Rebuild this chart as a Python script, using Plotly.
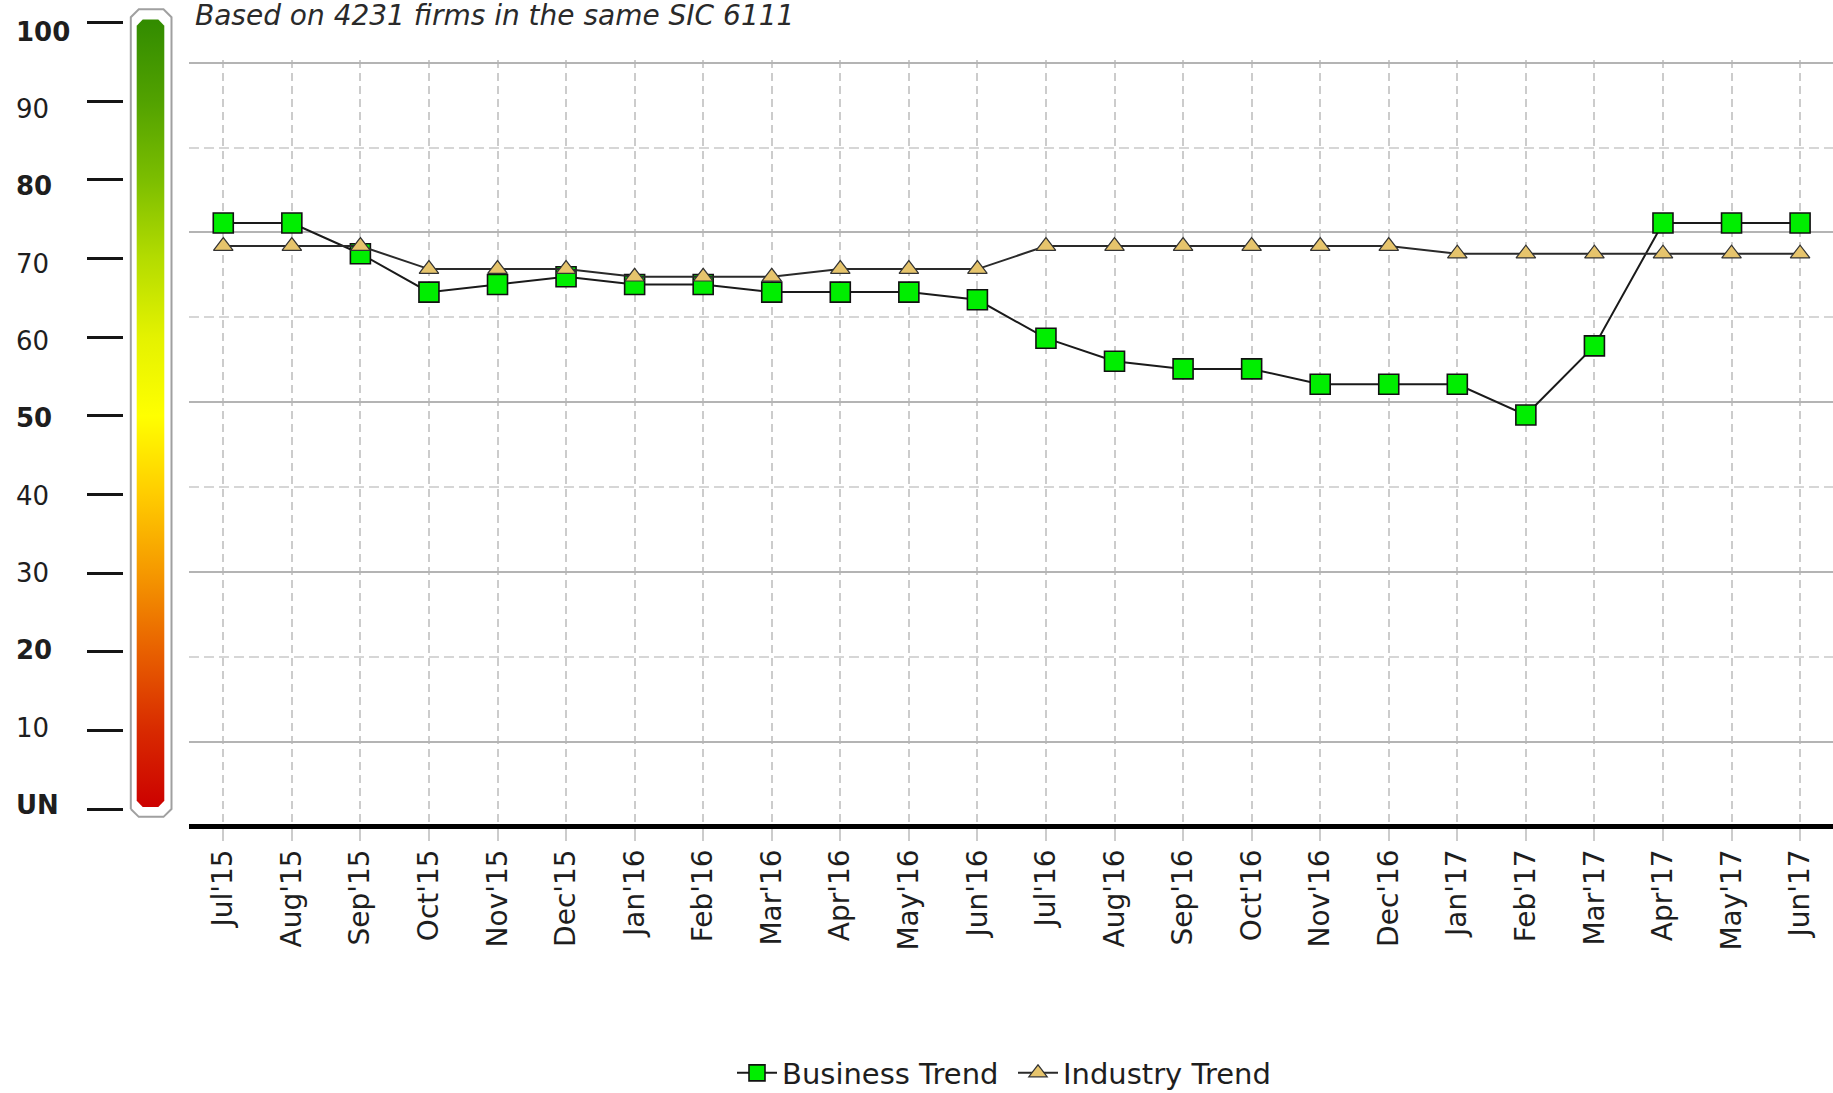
import numpy as np
import plotly.graph_objects as go

# ---------------- data ----------------
months = ["Jul'15", "Aug'15", "Sep'15", "Oct'15", "Nov'15", "Dec'15",
          "Jan'16", "Feb'16", "Mar'16", "Apr'16", "May'16", "Jun'16",
          "Jul'16", "Aug'16", "Sep'16", "Oct'16", "Nov'16", "Dec'16",
          "Jan'17", "Feb'17", "Mar'17", "Apr'17", "May'17", "Jun'17"]
business_trend = [75, 75, 71, 66, 67, 68, 67, 67, 66, 66, 66, 65,
                  60, 57, 56, 56, 54, 54, 54, 50, 59, 75, 75, 75]
industry_trend = [72, 72, 72, 69, 69, 69, 68, 68, 68, 69, 69, 69,
                  72, 72, 72, 72, 72, 72, 71, 71, 71, 71, 71, 71]
scale_vals = [0, 10, 20, 30, 40, 50, 60, 70, 80, 90, 100]
scale_text = ["UN", "10", "20", "30", "40", "50", "60", "70", "80", "90", "100"]
scale_bold = [True, False, True, False, False, True, False, False, True, False, True]
title_text = "Based on 4231 firms in the same SIC 6111"

# ---------------- geometry helpers ----------------
W, H = 1833, 1093
def fx(p):
    return p / W
def fy(p):
    return 1 - p / H

def axis_range(top_px, bot_px, va, pa, vb, pb):
    """value range for an axis whose domain spans top_px..bot_px (screen px),
    calibrated so value va sits at pa and vb at pb."""
    k = (pa - pb) / (vb - va)          # px per unit
    lo = va - (bot_px - pa) / k
    hi = va + (pa - top_px) / k
    return [lo, hi]

FONT = "DejaVu Sans"

# data axis
plot_top, plot_bot = 60.0, 824.2
y_rng = axis_range(plot_top, plot_bot, 75, 223.0, 50, 415.0)
px_per_val = (plot_bot - plot_top) / (y_rng[1] - y_rng[0])
grid_px = np.linspace(826.5, 62.7, 10)              # horizontal grid rows (screen px)
grid_all = y_rng[0] + (plot_bot - grid_px) / px_per_val
grid_solid = list(grid_all[1::2])
grid_dash = list(grid_all[2::2])

# gauge / scale axis (ticks)
g_top, g_bot = 6.0, 825.0
g_rng = axis_range(g_top, g_bot, 100, 22.7, 0, 809.0)
# scale label axis (overlays gauge axis)
l_rng = axis_range(g_top, g_bot, 100, 31.7, 0, 805.0)

fig = go.Figure()

# ---------------- gradient gauge (decoration) ----------------
def chamfer(x0, x1, y0, y1, cx, cy):
    xs = [x0, x0, x0 + cx, x1 - cx, x1, x1, x1 - cx, x0 + cx, x0]
    ys = [y0 + cy, y1 - cy, y1, y1, y1 - cy, y0 + cy, y0, y0, y0 + cy]
    return xs, ys

ox, oy = chamfer(130.8, 171.5, -1.0, 101.7, 8, 1.0)
fig.add_trace(go.Scatter(x=ox, y=oy, xaxis="x2", yaxis="y2", mode="lines",
                         fill="toself", fillcolor="white",
                         line=dict(color="#a0a0a0", width=2),
                         showlegend=False, hoverinfo="skip"))
ix, iy = chamfer(136.7, 164.3, 0.25, 100.4, 6, 0.8)
fig.add_trace(go.Scatter(x=ix, y=iy, xaxis="x2", yaxis="y2", mode="lines",
                         fill="toself",
                         fillgradient=dict(type="vertical", start=0, stop=100,
                                           colorscale=[[0.0, "#cc0000"], [0.1, "#d82a00"],
                                                       [0.2, "#e86000"], [0.3, "#f59800"],
                                                       [0.4, "#ffcc00"], [0.5, "#ffff00"],
                                                       [0.6, "#e4f200"], [0.7, "#b4dc00"],
                                                       [0.8, "#7cbe00"], [0.9, "#52a200"],
                                                       [1.0, "#338c00"]]),
                         line=dict(width=0),
                         showlegend=False, hoverinfo="skip"))

# ---------------- series ----------------
fig.add_trace(go.Scatter(x=months, y=business_trend, name="Business Trend",
                         mode="lines+markers",
                         line=dict(color="#1a1a1a", width=2),
                         marker=dict(symbol="square", size=20, color="#00ee00",
                                     line=dict(color="#111111", width=1.6))))
fig.add_trace(go.Scatter(x=months, y=industry_trend, name="Industry Trend",
                         mode="lines+markers",
                         line=dict(color="#2a2a2a", width=2),
                         marker=dict(symbol="triangle-up", size=17, color="#e6c46c",
                                     line=dict(color="#333333", width=1.2))))

# ---------------- scale labels & title ----------------
annotations = []
for v, t, b in zip(scale_vals, scale_text, scale_bold):
    annotations.append(dict(x=fx(14), xref="paper", xanchor="left",
                            y=v, yref="y3", yanchor="middle",
                            text=f"<b>{t}</b>" if b else t, showarrow=False,
                            font=dict(family=FONT, size=26, color="#1e1e1e")))
annotations.append(dict(x=fx(193), xref="paper", xanchor="left",
                        y=1, yref="paper", yanchor="top", yshift=3,
                        text=f"<i>{title_text}</i>", showarrow=False,
                        font=dict(family=FONT, size=28, color="#2a2a2a")))

fig.update_layout(
    width=W, height=H,
    margin=dict(l=0, r=0, t=0, b=0, autoexpand=False),
    paper_bgcolor="white", plot_bgcolor="white",
    annotations=annotations,
    showlegend=True,
    legend=dict(orientation="h", x=fx(732), xanchor="left",
                y=fy(1073), yanchor="middle",
                font=dict(family=FONT, size=29, color="#1e1e1e"),
                bgcolor="rgba(0,0,0,0)", itemwidth=40, entrywidth=226),
    xaxis=dict(domain=[fx(189), 1], range=[-0.5, 23.48], type="category",
               showgrid=True, gridcolor="#cccccc", gridwidth=1.5, griddash="8px,5px",
               showline=True, linecolor="black", linewidth=5,
               ticks="outside", ticklen=12, tickcolor="#cccccc", tickwidth=1.5,
               ticklabelstandoff=-3,
               tickangle=-90, tickfont=dict(family=FONT, size=28, color="#1e1e1e"),
               zeroline=False, anchor="y", fixedrange=True),
    yaxis=dict(domain=[fy(plot_bot), fy(plot_top)], range=y_rng,
               tickmode="array", tickvals=grid_solid,
               showgrid=True, gridcolor="#b4b4b4", gridwidth=2,
               minor=dict(tickmode="array", tickvals=grid_dash, showgrid=True,
                          gridcolor="#d6d6d6", gridwidth=2, griddash="10px,5px", ticks=""),
               showticklabels=False, ticks="", zeroline=False, showline=False,
               anchor="x", fixedrange=True),
    xaxis2=dict(domain=[fx(126), fx(176)], range=[126, 176], visible=False,
                anchor="y2", fixedrange=True),
    yaxis2=dict(domain=[fy(g_bot), fy(g_top)], range=g_rng,
                anchor="free", position=fx(123), side="left",
                tickmode="array", tickvals=scale_vals,
                ticks="outside", ticklen=36, tickwidth=2.5, tickcolor="#151515",
                showticklabels=False, showgrid=False, showline=False, zeroline=False,
                fixedrange=True),
    yaxis3=dict(overlaying="y2", anchor="x2", range=l_rng, visible=False,
                fixedrange=True),
)

fig.write_html("out.html", config={"displayModeBar": False},
               post_script="document.body.style.margin='0px';")
